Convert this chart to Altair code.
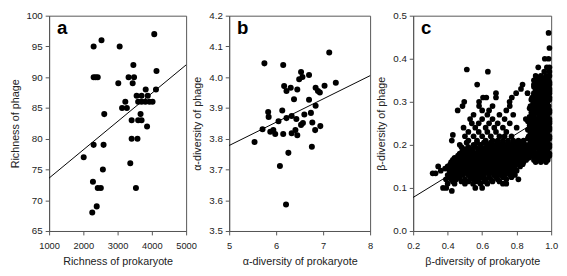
import altair as alt
import pandas as pd

FONT = "Liberation Sans"
H = 220

# ---- panel a: richness ----
a_x = [2300, 2530, 3060, 4070, 2300, 2360, 2420, 3020, 3320, 3480, 3460, 3440, 4135, 4120, 3820,
       3555, 3700, 3880, 3600, 3700, 3810, 3930, 4020, 3225, 3130, 3270, 3670, 2610,
       3410, 3600, 3700, 3860, 3410, 3580, 3370, 3535,
       2300, 2590, 2010, 2570, 2280, 2420, 2510, 2390, 2260]
a_y = [95, 96, 95, 97, 90, 90, 90, 89, 90, 90, 92, 89, 91, 88, 88,
       87, 87, 87, 86, 86, 86, 86, 86, 86, 85, 85, 84, 84,
       83, 83, 83, 82, 80, 80, 76, 72,
       79, 79, 77, 75, 73, 72, 72, 69, 68]
a_line_x = [1000, 5000]
a_line_y = [73.6, 92.0]
a_xticks = [1000, 2000, 3000, 4000, 5000]
a_yticks = [65, 70, 75, 80, 85, 90, 95, 100]

# ---- panel b: alpha diversity ----
b_x = [5.75, 6.15, 7.13, 7.27, 7.03, 6.84, 6.89, 6.93, 6.53, 6.56, 6.49, 6.70, 6.45,
       6.70, 6.84, 6.74, 6.60, 6.77, 6.17, 6.31, 6.22, 6.38,
       5.83, 5.84, 6.13, 6.05, 6.22, 6.33, 6.43,
       5.54, 5.71, 5.875, 5.94, 5.98, 6.15, 6.26, 6.08, 6.21,
       6.33, 6.41, 6.45, 6.53, 6.57, 6.76, 6.83, 6.94]
b_y = [4.045, 4.040, 4.080, 3.982, 3.972, 3.966, 3.955, 3.950, 4.017, 4.001, 3.993, 4.007, 3.960,
       3.927, 3.907, 3.884, 3.879, 3.853, 3.971, 3.966, 3.955, 3.928,
       3.887, 3.871, 3.892, 3.857, 3.867, 3.874, 3.864,
       3.789, 3.831, 3.823, 3.828, 3.815, 3.815, 3.754, 3.711, 3.586,
       3.818, 3.828, 3.811, 3.845, 3.851, 3.774, 3.828, 3.841]
b_line_x = [5, 8]
b_line_y = [3.778, 4.005]
b_xticks = [5, 6, 7, 8]
b_yticks = [3.5, 3.6, 3.7, 3.8, 3.9, 4.0, 4.1, 4.2]

# ---- panel c: beta diversity (rows of points) ----
c_row_y = [0.46, 0.425, 0.40, 0.38, 0.375, 0.37, 0.36, 0.355, 0.35, 0.345, 0.34, 0.335, 0.33,
           0.325, 0.32, 0.315, 0.31, 0.305, 0.30, 0.295, 0.29, 0.285,
           0.28, 0.275, 0.27, 0.265, 0.26, 0.255, 0.25, 0.245, 0.24, 0.235, 0.23, 0.225, 0.223,
           0.22, 0.215, 0.21, 0.205, 0.20, 0.195, 0.19, 0.185, 0.18, 0.175, 0.17, 0.165, 0.16,
           0.155, 0.15, 0.145, 0.14, 0.135, 0.134, 0.13, 0.125, 0.12, 0.115, 0.11, 0.10, 0.093]
c_row_x = [
    [0.985],
    [0.99],
    [0.985, 0.963],
    [0.925, 0.975, 0.99],
    [0.511],
    [0.633, 0.96, 0.99],
    [0.91, 0.94, 0.97, 0.99],
    [0.92, 0.95, 0.98],
    [0.90, 0.93, 0.96, 0.985],
    [0.915, 0.945, 0.97, 0.99],
    [0.571, 0.834, 0.90, 0.93, 0.95, 0.975, 0.99],
    [0.90, 0.925, 0.955, 0.98],
    [0.825, 0.91, 0.94, 0.965, 0.99],
    [0.91, 0.94, 0.965, 0.99],
    [0.68, 0.797, 0.863, 0.90, 0.925, 0.95, 0.975, 0.99],
    [0.90, 0.93, 0.955, 0.98],
    [0.605, 0.624, 0.68, 0.772, 0.89, 0.915, 0.94, 0.965, 0.99],
    [0.885, 0.915, 0.945, 0.97, 0.99],
    [0.496, 0.582, 0.759, 0.90, 0.93, 0.955, 0.98],
    [0.895, 0.92, 0.95, 0.975],
    [0.486, 0.582, 0.66, 0.76, 0.88, 0.91, 0.935, 0.96, 0.985],
    [0.875, 0.905, 0.93, 0.955, 0.98],
    [0.458, 0.60, 0.64, 0.74, 0.89, 0.92, 0.945, 0.97, 0.99],
    [0.885, 0.915, 0.94, 0.965, 0.99],
    [0.55, 0.63, 0.70, 0.78, 0.90, 0.93, 0.955, 0.98],
    [0.875, 0.90, 0.93, 0.955, 0.98],
    [0.53, 0.60, 0.66, 0.73, 0.853, 0.89, 0.915, 0.94, 0.965, 0.99],
    [0.865, 0.89, 0.915, 0.94, 0.965, 0.99],
    [0.54, 0.58, 0.64, 0.69, 0.76, 0.88, 0.90, 0.925, 0.95, 0.975, 0.99],
    [0.875, 0.90, 0.93, 0.955, 0.98],
    [0.492, 0.56, 0.62, 0.67, 0.72, 0.80, 0.89, 0.915, 0.94, 0.965, 0.99],
    [0.865, 0.89, 0.915, 0.94, 0.965, 0.99],
    [0.52, 0.58, 0.63, 0.68, 0.74, 0.88, 0.90, 0.93, 0.955, 0.98],
    [0.88, 0.905, 0.93, 0.955, 0.98],
    [0.43],
    [0.50, 0.55, 0.60, 0.65, 0.70, 0.73, 0.77, 0.87, 0.89, 0.915, 0.94, 0.965, 0.99],
    [0.865, 0.89, 0.915, 0.94, 0.965, 0.99],
    [0.424, 0.52, 0.57, 0.62, 0.66, 0.69, 0.72, 0.75, 0.78, 0.81, 0.84, 0.88, 0.90, 0.93, 0.955, 0.98],
    [0.51, 0.57, 0.61, 0.65, 0.69, 0.72, 0.75, 0.78, 0.81, 0.84, 0.88, 0.905, 0.93, 0.955, 0.98],
    [0.47, 0.55, 0.59, 0.63, 0.67, 0.70, 0.73, 0.76, 0.79, 0.82, 0.85, 0.87, 0.89, 0.915, 0.94, 0.965, 0.99],
    [0.48, 0.52, 0.56, 0.595, 0.625, 0.655, 0.685, 0.715, 0.745, 0.775, 0.805, 0.835, 0.865, 0.89, 0.915, 0.94, 0.965, 0.99],
    [0.50, 0.54, 0.58, 0.61, 0.64, 0.67, 0.70, 0.73, 0.76, 0.79, 0.82, 0.85, 0.88, 0.90, 0.93, 0.955, 0.98],
    [0.485, 0.515, 0.545, 0.575, 0.605, 0.635, 0.665, 0.695, 0.725, 0.755, 0.785, 0.815, 0.845, 0.875, 0.90, 0.93, 0.955, 0.98],
    [0.47, 0.50, 0.53, 0.56, 0.59, 0.62, 0.65, 0.68, 0.71, 0.74, 0.77, 0.80, 0.83, 0.86, 0.89, 0.915, 0.94, 0.965, 0.99],
    [0.46, 0.495, 0.525, 0.555, 0.585, 0.615, 0.645, 0.675, 0.705, 0.735, 0.765, 0.795, 0.825, 0.855, 0.885, 0.915, 0.94, 0.965, 0.99],
    [0.44, 0.48, 0.51, 0.54, 0.57, 0.60, 0.63, 0.66, 0.69, 0.72, 0.75, 0.78, 0.81, 0.84, 0.87, 0.90, 0.93, 0.955, 0.98],
    [0.43, 0.465, 0.495, 0.525, 0.555, 0.585, 0.615, 0.645, 0.675, 0.705, 0.735, 0.765, 0.795, 0.825, 0.855, 0.90, 0.925, 0.955, 0.98],
    [0.42, 0.45, 0.48, 0.51, 0.54, 0.57, 0.60, 0.63, 0.66, 0.69, 0.72, 0.75, 0.78, 0.81, 0.84, 0.91, 0.94, 0.97],
    [0.415, 0.445, 0.475, 0.505, 0.535, 0.565, 0.595, 0.625, 0.655, 0.685, 0.715, 0.745, 0.775, 0.805, 0.835],
    [0.345, 0.40, 0.43, 0.46, 0.49, 0.52, 0.55, 0.58, 0.61, 0.64, 0.67, 0.70, 0.73, 0.76, 0.79, 0.82],
    [0.385, 0.425, 0.455, 0.485, 0.515, 0.545, 0.575, 0.605, 0.635, 0.665, 0.695, 0.725, 0.755, 0.785],
    [0.36, 0.41, 0.44, 0.47, 0.50, 0.53, 0.56, 0.59, 0.62, 0.65, 0.68, 0.71, 0.74, 0.77, 0.80],
    [0.42, 0.455, 0.485, 0.515, 0.545, 0.575, 0.605, 0.635, 0.665, 0.695, 0.725, 0.755, 0.78],
    [0.313, 0.33],
    [0.40, 0.43, 0.46, 0.49, 0.52, 0.55, 0.58, 0.61, 0.64, 0.67, 0.70, 0.73, 0.76, 0.79],
    [0.41, 0.44, 0.47, 0.53, 0.565, 0.60, 0.64, 0.68, 0.72, 0.77],
    [0.39, 0.42, 0.45, 0.50, 0.55, 0.58, 0.62, 0.65, 0.69, 0.74, 0.81],
    [0.43, 0.48, 0.52, 0.57, 0.61, 0.66, 0.70],
    [0.40, 0.44, 0.50, 0.547, 0.59, 0.63, 0.72, 0.74],
    [0.373, 0.392, 0.56, 0.60],
    [0.424],
]
c_line_x = [0.2, 1.0]
c_line_y = [0.078, 0.275]
c_xticks = [0.2, 0.4, 0.6, 0.8, 1.0]
c_yticks = [0.0, 0.1, 0.2, 0.3, 0.4, 0.5]

c_x, c_y = [], []
for yv, xs in zip(c_row_y, c_row_x):
    for xv in xs:
        c_x.append(xv)
        c_y.append(yv)


def panel(px, py, lx, ly, xdom, ydom, xticks, yticks, xfmt, yfmt, xtitle, ytitle, w, letter, size):
    pts_df = pd.DataFrame({"x": px, "y": py})
    line_df = pd.DataFrame({"x": lx, "y": ly})
    xs = alt.Scale(domain=xdom, nice=False, zero=False)
    ys = alt.Scale(domain=ydom, nice=False, zero=False)
    xax = alt.Axis(values=xticks, format=xfmt, title=xtitle, labelFlush=False)
    yax = alt.Axis(values=yticks, format=yfmt, title=ytitle, labelFlush=False)
    line = alt.Chart(line_df).mark_line(color="black", strokeWidth=1).encode(
        x=alt.X("x:Q", scale=xs, axis=xax),
        y=alt.Y("y:Q", scale=ys, axis=yax),
    )
    pts = alt.Chart(pts_df).mark_circle(size=size, color="black", opacity=1).encode(
        x=alt.X("x:Q", scale=xs, axis=xax),
        y=alt.Y("y:Q", scale=ys, axis=yax),
    )
    txt = alt.Chart(pd.DataFrame({"t": [letter]})).mark_text(
        align="left", baseline="alphabetic", fontSize=19, fontWeight="bold",
        font=FONT, color="black",
    ).encode(x=alt.value(8), y=alt.value(19), text="t:N")
    return alt.layer(line, pts, txt).properties(width=w, height=H)


pa = panel(a_x, a_y, a_line_x, a_line_y, [1000, 5000], [65, 100], a_xticks, a_yticks, "d", "d",
           "Richness of prokaryote", "Richness of phage", 140, "a", 38)
pb = panel(b_x, b_y, b_line_x, b_line_y, [5, 8], [3.5, 4.2], b_xticks, b_yticks, "d", ".1f",
           "α-diversity of prokaryote", "α-diversity of phage", 144, "b", 38)
pc = panel(c_x, c_y, c_line_x, c_line_y, [0.2, 1.0], [0.0, 0.5], c_xticks, c_yticks, ".1f", ".1f",
           "β-diversity of prokaryote", "β-diversity of phage", 141, "c", 34)

chart = alt.hconcat(pa, pb, pc, spacing=44, bounds="flush").properties(
    padding={"top": -1, "left": 0, "right": 0, "bottom": 0}
).configure_view(
    stroke="#555", strokeWidth=1
).configure_axis(
    grid=False, domainColor="#555", tickColor="#555", tickSize=4,
    labelFont=FONT, titleFont=FONT, labelFontSize=10, titleFontSize=11,
    labelColor="#222", titleColor="#222", titleFontWeight="normal",
    labelOverlap=False, labelFlush=False, titlePadding=6,
).configure_axisX(
    labelPadding=6, labelFontSize=9.5
).configure_axisY(
    labelPadding=3
)

chart.save("out.html", embed_options={"renderer": "svg", "actions": False})
